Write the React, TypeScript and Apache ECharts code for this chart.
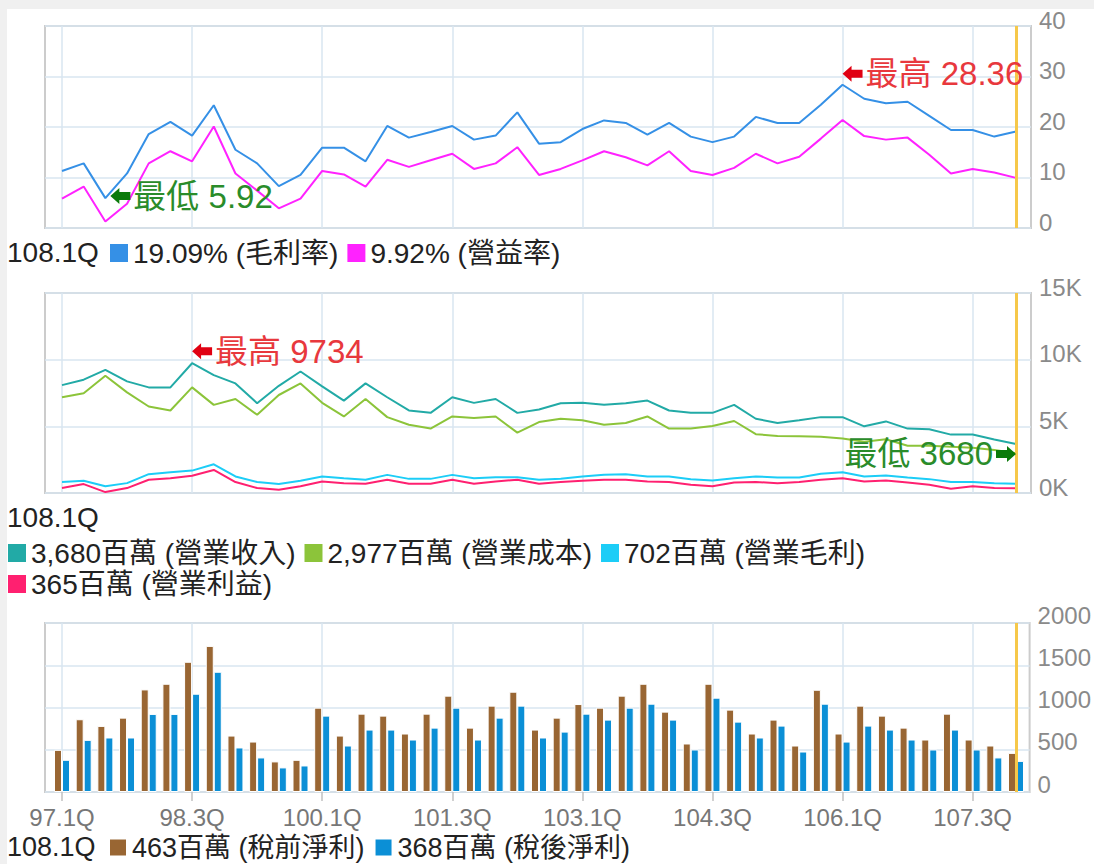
import React, { useEffect, useRef } from 'react';
import * as echarts from 'echarts';

const quarters = [
  '97.1Q', '97.2Q', '97.3Q', '97.4Q', '98.1Q', '98.2Q', '98.3Q', '98.4Q',
  '99.1Q', '99.2Q', '99.3Q', '99.4Q', '100.1Q', '100.2Q', '100.3Q', '100.4Q',
  '101.1Q', '101.2Q', '101.3Q', '101.4Q', '102.1Q', '102.2Q', '102.3Q', '102.4Q',
  '103.1Q', '103.2Q', '103.3Q', '103.4Q', '104.1Q', '104.2Q', '104.3Q', '104.4Q',
  '105.1Q', '105.2Q', '105.3Q', '105.4Q', '106.1Q', '106.2Q', '106.3Q', '106.4Q',
  '107.1Q', '107.2Q', '107.3Q', '107.4Q', '108.1Q',
];

// 毛利率 (%)
const grossMargin = [
  11.3, 12.8, 5.92, 10.8, 18.6, 21.0, 18.3, 24.3, 15.5, 12.8, 8.3, 10.5,
  15.9, 15.9, 13.2, 20.2, 17.9, 19.0, 20.2, 17.5, 18.3, 22.9, 16.7, 17.0,
  19.6, 21.3, 20.8, 18.5, 20.8, 18.1, 17.0, 18.1, 22.0, 20.8, 20.8, 24.4,
  28.36, 25.6, 24.7, 25.0, 22.2, 19.4, 19.4, 18.1, 19.09,
];
// 營益率 (%)
const opMargin = [
  5.8, 8.2, 1.3, 4.8, 12.8, 15.2, 13.2, 20.1, 10.8, 7.4, 3.9, 5.8,
  11.3, 10.6, 8.2, 13.5, 12.1, 13.4, 14.7, 11.7, 12.8, 16.0, 10.5, 11.7,
  13.4, 15.2, 14.0, 12.4, 15.2, 11.3, 10.5, 11.9, 14.7, 12.8, 14.1, 17.7,
  21.4, 18.2, 17.5, 17.9, 14.5, 10.8, 11.7, 11.0, 9.92,
];

// 百萬
const revenue = [
  8090, 8500, 9230, 8370, 7920, 7920, 9734, 8840, 8220, 6730, 8040, 9110,
  8000, 6930, 8220, 7180, 6190, 6010, 7180, 6760, 7050, 6010, 6260, 6730,
  6760, 6610, 6730, 6930, 6190, 6010, 6010, 6610, 5570, 5250, 5450, 5690,
  5690, 5000, 5370, 4830, 4780, 4380, 4380, 4010, 3680,
];
const opCost = [
  7180, 7480, 8790, 7550, 6490, 6190, 7920, 6610, 7050, 5870, 7350, 8220,
  6760, 5740, 7050, 5690, 5120, 4830, 5740, 5620, 5740, 4530, 5320, 5570,
  5450, 5120, 5250, 5740, 4830, 4830, 5020, 5400, 4410, 4280, 4260, 4210,
  4090, 3840, 4030, 3540, 3540, 3470, 3390, 3220, 2977,
];
const grossProfit = [
  820, 920, 500, 740, 1410, 1560, 1680, 2150, 1240, 820, 670, 920,
  1240, 1110, 990, 1360, 1060, 1060, 1360, 1110, 1190, 1190, 990, 1060,
  1240, 1360, 1410, 1240, 1240, 1040, 940, 1110, 1240, 1160, 1160, 1440,
  1560, 1240, 1310, 1160, 1040, 820, 820, 740, 702,
];
const opIncome = [
  370, 670, 70, 370, 990, 1110, 1290, 1730, 820, 370, 250, 500,
  870, 740, 690, 990, 690, 690, 990, 690, 870, 990, 690, 820,
  920, 990, 990, 870, 820, 620, 500, 790, 820, 740, 820, 990,
  1110, 870, 940, 790, 620, 320, 500, 370, 365,
];

// 百萬
const preTaxIncome = [
  499, 861, 782, 880, 1214, 1281, 1541, 1729, 668, 597, 362, 381,
  998, 668, 927, 904, 692, 927, 1140, 762, 1022, 1187, 739, 880,
  1041, 998, 1140, 1281, 951, 574, 1281, 975, 692, 857, 550, 1210,
  692, 1022, 904, 762, 621, 927, 621, 550, 463,
];
const netIncome = [
  381, 617, 645, 645, 924, 924, 1163, 1423, 527, 409, 291, 314,
  904, 550, 739, 739, 621, 762, 998, 621, 880, 1022, 645, 715,
  927, 857, 998, 1045, 857, 503, 1116, 833, 645, 786, 479, 1045,
  597, 786, 739, 621, 503, 739, 503, 409, 368,
];

const pctTicks = { min: 0, max: 40, interval: 10 };
const kTicks = { min: 0, max: 15000, interval: 5000 };
const barTicks = { min: 0, max: 2000, interval: 500 };

const FONT = '"Liberation Sans", Arial, "Noto Sans CJK TC", sans-serif';
const GRID_LINE = '#d9e6f1';
const LABEL_GRAY = '#8a8a8a';
const ARROW_LEFT = 'path://M0,8 L9,0 L9,4 L20,4 L20,12 L9,12 L9,16 Z';
const ARROW_RIGHT = 'path://M20,8 L11,0 L11,4 L0,4 L0,12 L11,12 L11,16 Z';
const RED_ARROW = '#e00012';
const RED_TEXT = '#e8383d';
const GREEN_ARROW = '#0b7a0b';
const GREEN_TEXT = '#2a8c2a';

const fmt = (n: number) => n.toLocaleString('en-US');
const last = (a: any[]) => a[a.length - 1];
const argMax = (a: number[]) => a.indexOf(Math.max(...a));
const argMin = (a: number[]) => a.indexOf(Math.min(...a));

function buildOption() {
  const L = 45;   // plot border left
  const BR = 63;  // plot border right (distance from right)
  const DL = 62;  // first category
  const DR = 78;  // last category (distance from right)
  const panels = [
    { top: 26, height: 202 },
    { top: 293, height: 200 },
    { top: 623, height: 169 },
  ];
  const grid: any[] = [];
  panels.forEach((p) => {
    grid.push({ left: L, right: BR, top: p.top, height: p.height, show: true, borderColor: '#cccccc', borderWidth: 2, backgroundColor: 'transparent' });
    grid.push({ left: DL, right: DR, top: p.top, height: p.height });
  });

  const yLabel = (formatter: any, lh: number) => ({
    show: true,
    color: LABEL_GRAY,
    fontSize: 24,
    fontFamily: FONT,
    margin: 8,
    verticalAlign: 'bottom',
    lineHeight: lh,
    formatter,
  });
  const bgY = (gi: number, t: any, formatter: any, lh: number) => ({
    type: 'value', gridIndex: gi, position: 'right', ...t,
    axisLine: { show: false }, axisTick: { show: false },
    splitLine: { show: true, lineStyle: { color: GRID_LINE, width: 1.5 } },
    axisLabel: yLabel(formatter, lh),
  });
  const dataY = (gi: number, t: any) => ({ type: 'value', gridIndex: gi, ...t, show: false, splitLine: { show: false } });

  const yAxis = [
    bgY(0, pctTicks, (v: number) => String(v), 12), dataY(1, pctTicks),
    bgY(2, kTicks, (v: number) => v / 1000 + 'K', 12), dataY(3, kTicks),
    bgY(4, barTicks, (v: number) => String(v), 16), dataY(5, barTicks),
  ];

  const dataX = (gi: number, withLabels: boolean) => ({
    type: 'category', gridIndex: gi, data: quarters, boundaryGap: false,
    axisLine: { show: false },
    axisTick: { show: withLabels, interval: 5, length: 9, lineStyle: { color: '#c0c0c0', width: 1.5 } },
    axisLabel: { show: withLabels, interval: 5, color: '#777', fontSize: 24, fontFamily: FONT, margin: 13 },
    splitLine: { show: true, interval: 5, lineStyle: { color: GRID_LINE, width: 1.5 } },
  });
  const bgX = (gi: number) => ({ type: 'value', gridIndex: gi, show: false, min: 0, max: 1 });
  const xAxis = [bgX(0), dataX(1, false), bgX(2), dataX(3, false), bgX(4), dataX(5, true)];

  const yellow = {
    silent: true, symbol: 'none', animation: false,
    label: { show: false },
    lineStyle: { color: '#f6c84a', width: 3, type: 'solid', opacity: 1 },
    emphasis: { disabled: true },
    data: [{ xAxis: quarters.length - 1 }],
  };

  const annot = (idx: number, val: number, kind: 'max' | 'min', dir: 'left' | 'right', offset: number[]) => ({
    coord: [idx, val], value: val,
    symbol: dir === 'left' ? ARROW_LEFT : ARROW_RIGHT,
    symbolSize: [20, 16], symbolOffset: offset,
    itemStyle: { color: kind === 'max' ? RED_ARROW : GREEN_ARROW },
    label: {
      show: true, position: dir === 'left' ? 'right' : 'left', distance: 3,
      formatter: (kind === 'max' ? '最高 ' : '最低 ') + '{c}',
      color: kind === 'max' ? RED_TEXT : GREEN_TEXT,
      fontSize: 33, fontFamily: FONT,
    },
  });

  const gmMax = argMax(grossMargin);
  const gmMin = argMin(grossMargin);
  const revMax = argMax(revenue);
  const revMin = argMin(revenue);

  const lineBase = (name: string, xi: number, data: number[], color: string) => ({
    name, type: 'line', xAxisIndex: xi, yAxisIndex: xi, data, color,
    symbol: 'none', showSymbol: false, lineStyle: { width: 2, color }, emphasis: { disabled: true },
  });

  const series: any[] = [
    {
      ...lineBase('毛利率', 1, grossMargin, '#3590e6'),
      markPoint: {
        silent: true, animation: false,
        data: [
          annot(gmMax, grossMargin[gmMax], 'max', 'left', [10, -11]),
          annot(gmMin, grossMargin[gmMin], 'min', 'left', [15, -2]),
        ],
      },
      markLine: yellow,
    },
    lineBase('營益率', 1, opMargin, '#ff22ff'),
    {
      ...lineBase('營業收入', 3, revenue, '#22aaa6'),
      markPoint: {
        silent: true, animation: false,
        data: [
          annot(revMax, revenue[revMax], 'max', 'left', [10, -12]),
          annot(revMin, revenue[revMin], 'min', 'right', [-10, 10]),
        ],
      },
      markLine: yellow,
    },
    lineBase('營業成本', 3, opCost, '#8cc43a'),
    lineBase('營業毛利', 3, grossProfit, '#1ccdf7'),
    lineBase('營業利益', 3, opIncome, '#ff2070'),
    {
      name: '稅前淨利', type: 'bar', xAxisIndex: 5, yAxisIndex: 5, data: preTaxIncome,
      color: '#996633', barWidth: 8, barGap: '0%', clip: false,
      itemStyle: { borderColor: '#ffffff', borderWidth: 1 }, emphasis: { disabled: true },
    },
    {
      name: '稅後淨利', type: 'bar', xAxisIndex: 5, yAxisIndex: 5, data: netIncome,
      color: '#0b8fd6', barWidth: 8, barGap: '0%', clip: false,
      itemStyle: { borderColor: '#ffffff', borderWidth: 1 }, emphasis: { disabled: true },
    },
    {
      // carrier for the current-quarter marker line of the bottom panel
      type: 'line', xAxisIndex: 5, yAxisIndex: 5, data: [], z: 5, silent: true,
      markLine: yellow,
    },
  ];

  const legendText = { fontSize: 28, color: '#222', fontFamily: FONT, lineHeight: 26 };
  const legendBase = {
    icon: 'rect', itemWidth: 18, itemHeight: 18, itemGap: 9, selectedMode: false,
    textStyle: legendText, padding: 0, orient: 'horizontal',
  };
  const legendLabels: Record<string, string> = {
    '毛利率': `${last(grossMargin).toFixed(2)}% (毛利率)`,
    '營益率': `${last(opMargin).toFixed(2)}% (營益率)`,
    '營業收入': `${fmt(last(revenue))}百萬 (營業收入)`,
    '營業成本': `${fmt(last(opCost))}百萬 (營業成本)`,
    '營業毛利': `${fmt(last(grossProfit))}百萬 (營業毛利)`,
    '營業利益': `${fmt(last(opIncome))}百萬 (營業利益)`,
    '稅前淨利': `${fmt(last(preTaxIncome))}百萬 (稅前淨利)`,
    '稅後淨利': `${fmt(last(netIncome))}百萬 (稅後淨利)`,
  };
  const formatter = (name: string) => legendLabels[name] || name;

  const legend = [
    { ...legendBase, data: ['毛利率', '營益率'], left: 110, top: 239, formatter },
    { ...legendBase, data: ['營業收入', '營業成本', '營業毛利'], left: 8, top: 539, formatter },
    { ...legendBase, data: ['營業利益'], left: 8, top: 570, formatter },
    {
      ...legendBase, data: ['稅前淨利', '稅後淨利'], left: 108, top: 834, formatter,
      textStyle: { ...legendText, fontSize: 27 },
    },
  ];

  const qText = (y: number, size: number) => ({
    type: 'text', x: 7, y, silent: true,
    style: { text: last(quarters), fill: '#222', fontSize: size, fontFamily: FONT, textVerticalAlign: 'middle', verticalAlign: 'middle' },
  });

  return {
    animation: false,
    backgroundColor: 'transparent',
    grid, xAxis, yAxis, series, legend,
    graphic: [qText(252, 28), qText(517, 28), qText(847, 27)],
  };
}

export default function App() {
  const ref = useRef<HTMLDivElement>(null);
  useEffect(() => {
    if (!ref.current) return;
    const chart = echarts.init(ref.current, null, { renderer: 'svg' });
    chart.setOption(buildOption() as any);
    return () => chart.dispose();
  }, []);
  return (
    <div style={{ position: 'fixed', left: 0, top: 0, width: 1094, height: 864, background: '#f0f0f0', overflow: 'hidden' }}>
      <div style={{ position: 'absolute', left: 7, top: 9, right: 0, bottom: 0, background: '#ffffff' }} />
      <div ref={ref} style={{ position: 'absolute', left: 0, top: 0, width: 1094, height: 864 }} />
    </div>
  );
}
